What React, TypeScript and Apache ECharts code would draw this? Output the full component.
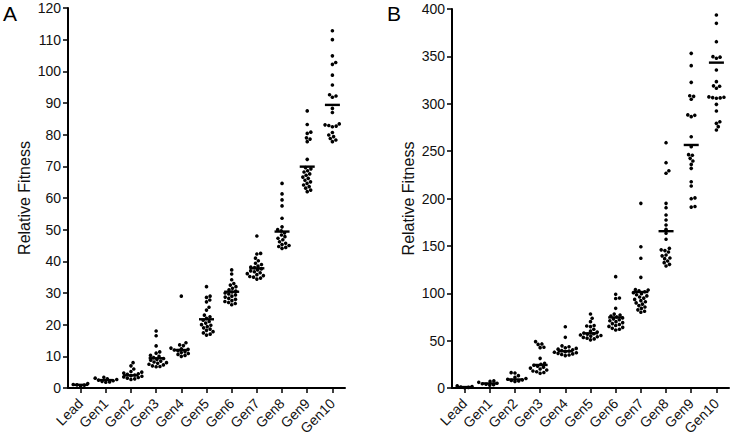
import { useEffect, useRef } from "react";
import * as echarts from "echarts";

const categories = ["Lead", "Gen1", "Gen2", "Gen3", "Gen4", "Gen5", "Gen6", "Gen7", "Gen8", "Gen9", "Gen10"];

// Panel A values (relative fitness)
const leadA = [1.4, 1.1, 1.0, 0.9, 0.6];
const gen1A = [3.4, 3.1, 2.9, 2.7, 2.5, 2.3, 2.1, 1.9, 1.8];
const gen2A = [8.0, 7.0, 6.0, 5.2, 5.0, 4.7, 4.5, 4.3, 4.1, 3.9, 3.7, 3.5, 3.3, 3.1, 2.9, 2.7];
const gen3A = [18.0, 16.5, 13.3, 11.4, 11.0, 10.3, 10.0, 9.6, 9.3, 9.0, 8.8, 8.5, 8.2, 8.0, 7.8, 7.5, 7.3, 7.0, 6.8, 6.7];
const gen4A = [29.0, 14.3, 13.6, 13.4, 12.6, 12.4, 12.2, 12.0, 11.8, 11.5, 11.2, 10.9, 10.6, 10.3, 10.0];
const gen5A = [32.0, 29.0, 28.6, 27.8, 27.2, 25.5, 24.6, 23.0, 22.5, 22.0, 21.4, 21.0, 20.5, 20.0, 19.8, 19.4, 19.0, 18.6, 18.2, 17.8, 17.4, 17.0, 16.7];
const gen6A = [37.3, 36.0, 34.2, 33.0, 32.5, 32.0, 31.5, 31.0, 30.6, 30.3, 30.0, 29.7, 29.4, 29.0, 28.7, 28.3, 28.0, 27.6, 27.3, 27.0, 26.7, 26.3];
const gen7A = [48.0, 42.5, 42.3, 41.0, 40.2, 39.4, 39.0, 38.5, 38.2, 38.0, 37.6, 37.3, 37.0, 36.7, 36.4, 36.1, 35.8, 35.5, 35.2, 35.0, 34.7, 34.4];
const gen8A = [64.6, 61.3, 59.4, 57.5, 53.6, 50.9, 50.0, 49.6, 49.0, 48.3, 47.8, 47.3, 46.8, 46.2, 45.7, 45.3, 45.0, 44.7, 44.4, 44.1];
const gen9A = [87.5, 83.2, 80.8, 80.4, 79.0, 78.6, 77.8, 72.2, 69.6, 69.2, 68.6, 68.2, 67.6, 67.2, 66.6, 66.2, 65.6, 65.1, 64.6, 64.1, 63.6, 63.1, 62.5, 62.0];
const gen10A = [112.8, 110.0, 104.9, 102.8, 102.2, 98.8, 95.7, 92.6, 92.2, 91.8, 88.3, 87.0, 83.4, 83.1, 82.9, 82.7, 82.5, 80.7, 79.9, 79.4, 78.8, 78.3, 77.8];
const meansA = [1.0, 2.5, 4.0, 9.4, 12.0, 21.7, 30.4, 37.8, 49.4, 69.9, 89.4];

// Panel B values (relative fitness)
const leadB = [2.2, 1.6, 1.0, 0.6, 0.3];
const gen1B = [7.5, 7.0, 6.0, 5.0, 4.5, 4.0, 3.5, 3.0];
const gen2B = [16.2, 15.8, 13.0, 11.3, 10.0, 9.2, 8.6, 8.0, 7.4, 6.8];
const gen3B = [49.0, 46.5, 46.0, 43.0, 42.6, 31.3, 26.0, 25.0, 24.0, 23.0, 22.0, 21.0, 20.0, 19.0, 18.0, 17.2, 16.4, 15.5];
const gen4B = [64.7, 53.5, 44.5, 43.5, 42.5, 41.8, 41.0, 40.3, 39.6, 39.0, 38.4, 37.8, 37.2, 36.6, 36.0, 35.4, 34.8, 34.2];
const gen5B = [78.1, 73.6, 70.0, 66.0, 65.4, 64.8, 62.0, 60.0, 59.0, 58.0, 57.3, 56.7, 56.0, 55.4, 54.8, 54.1, 53.4, 52.6, 51.8, 50.8];
const gen6B = [117.5, 98.9, 95.0, 94.4, 84.1, 78.0, 77.0, 76.0, 75.0, 74.0, 73.0, 72.0, 71.0, 70.0, 69.0, 68.0, 67.0, 66.0, 65.0, 64.0, 63.0, 62.0, 61.2];
const gen7B = [194.9, 149.1, 136.9, 116.8, 104.0, 103.4, 102.5, 101.6, 100.6, 99.5, 98.4, 97.2, 96.0, 94.8, 93.5, 92.2, 91.0, 89.8, 88.5, 87.0, 85.5, 84.0, 82.5, 81.0, 80.0];
const gen8B = [258.9, 237.8, 229.3, 226.6, 194.9, 190.3, 182.6, 177.3, 172.0, 167.5, 163.3, 157.0, 147.4, 145.8, 145.0, 143.5, 140.4, 139.5, 137.2, 136.5, 134.0, 132.3, 130.5, 128.8];
const gen9B = [353.2, 340.2, 322.6, 308.4, 307.8, 304.7, 288.2, 287.8, 286.4, 265.2, 254.7, 246.3, 245.7, 242.4, 239.6, 236.0, 231.8, 217.7, 213.2, 200.6, 199.8, 191.6, 190.9];
const gen10B = [393.7, 384.9, 365.5, 349.7, 349.2, 348.0, 335.6, 323.3, 318.9, 318.5, 316.3, 307.2, 306.9, 306.5, 306.2, 305.8, 299.4, 292.3, 281.0, 279.3, 275.8, 272.3];
const meansB = [1.0, 4.8, 9.0, 24.3, 38.8, 57.7, 74.5, 101.3, 165.5, 256.5, 343.4];

const yTicksA = { min: 0, max: 120, interval: 10 };
const yTicksB = { min: 0, max: 400, interval: 50 };

const groupsA = [leadA, gen1A, gen2A, gen3A, gen4A, gen5A, gen6A, gen7A, gen8A, gen9A, gen10A];
const groupsB = [leadB, gen1B, gen2B, gen3B, gen4B, gen5B, gen6B, gen7B, gen8B, gen9B, gen10B];

const DOT_R = 1.8;
const DOT_GAP = 3.8;

// beeswarm: given pixel y positions, compute horizontal offsets so dots don't overlap
function swarm(ys: number[], d: number): number[] {
  const order = ys.map((_, i) => i).sort((a, b) => ys[b] - ys[a]);
  const xs = new Array(ys.length).fill(0);
  const placed: number[] = [];
  for (const i of order) {
    const y = ys[i];
    const cands = [0];
    for (const j of placed) {
      const dy = Math.abs(ys[j] - y);
      if (dy < d) {
        const dx = Math.sqrt(d * d - dy * dy);
        cands.push(xs[j] + dx + 0.01, xs[j] - dx - 0.01);
      }
    }
    cands.sort((a, b) => Math.abs(a) - Math.abs(b));
    let best = 0;
    for (const c of cands) {
      let ok = true;
      for (const j of placed) {
        const ddx = xs[j] - c;
        const ddy = ys[j] - y;
        if (ddx * ddx + ddy * ddy < d * d - 0.001) {
          ok = false;
          break;
        }
      }
      if (ok) {
        best = c;
        break;
      }
    }
    xs[i] = best;
    placed.push(i);
  }
  return xs;
}

function dotRenderer(groups: number[][]) {
  const cache: Record<string, number[]> = {};
  return (_params: any, api: any) => {
    const cat = api.value(0);
    const v = api.value(1);
    const k = api.value(2);
    const group = groups[cat];
    const ys = group.map((g) => api.coord([cat, g])[1]);
    const key = cat + "|" + ys[0].toFixed(2) + "|" + ys[ys.length - 1].toFixed(2);
    if (!cache[key]) cache[key] = swarm(ys, DOT_GAP);
    const xs = cache[key];
    const p = api.coord([cat, v]);
    return {
      type: "circle",
      shape: { cx: p[0] + xs[k], cy: p[1], r: DOT_R },
      style: { fill: "#000" },
    };
  };
}

function meanRenderer(_params: any, api: any) {
  const p = api.coord([api.value(0), api.value(1)]);
  return {
    type: "line",
    shape: { x1: p[0] - 7.5, y1: p[1], x2: p[0] + 7.5, y2: p[1] },
    style: { stroke: "#000", lineWidth: 2.4 },
  };
}

const FONT = "Liberation Sans, Arial, sans-serif";

function xAxisFor(gridIndex: number) {
  return {
    type: "category",
    gridIndex,
    data: categories,
    boundaryGap: true,
    axisLine: { show: true, lineStyle: { color: "#000", width: 2 } },
    axisTick: { show: true, alignWithLabel: true, length: 5, lineStyle: { color: "#000", width: 1.5 } },
    axisLabel: { rotate: 45, interval: 0, fontSize: 14, color: "#111", margin: 13, fontFamily: FONT },
    splitLine: { show: false },
  };
}

function yAxisFor(gridIndex: number, t: { min: number; max: number; interval: number }) {
  return {
    type: "value",
    gridIndex,
    min: t.min,
    max: t.max,
    interval: t.interval,
    axisLine: { show: true, lineStyle: { color: "#000", width: 2 } },
    axisTick: { show: true, length: 5, lineStyle: { color: "#000", width: 1.5 } },
    axisLabel: { fontSize: 14, color: "#111", margin: 7, fontFamily: FONT },
    splitLine: { show: false },
    name: "Relative Fitness",
    nameLocation: "middle",
    nameGap: 36,
    nameTextStyle: { fontSize: 16, color: "#111", fontFamily: FONT },
  };
}

function flatten(groups: number[][]) {
  const out: number[][] = [];
  groups.forEach((g, ci) => g.forEach((v, k) => out.push([ci, v, k])));
  return out;
}

export default function App() {
  const ref = useRef<HTMLDivElement>(null);
  useEffect(() => {
    if (!ref.current) return;
    const chart = echarts.init(ref.current, null, { renderer: "svg" });
    chart.setOption({
      animation: false,
      backgroundColor: "#fff",
      grid: [
        { left: 68, top: 8, width: 277, height: 380 },
        { left: 452, top: 9, width: 277, height: 379 },
      ],
      xAxis: [xAxisFor(0), xAxisFor(1)],
      yAxis: [yAxisFor(0, yTicksA), yAxisFor(1, yTicksB)],
      graphic: [
        { type: "text", left: 3, top: 3, style: { text: "A", fontSize: 21, fill: "#000", font: "21px " + FONT } },
        { type: "text", left: 387, top: 3, style: { text: "B", fontSize: 21, fill: "#000", font: "21px " + FONT } },
      ],
      series: [
        {
          type: "custom",
          xAxisIndex: 0,
          yAxisIndex: 0,
          renderItem: dotRenderer(groupsA),
          data: flatten(groupsA),
        },
        {
          type: "custom",
          xAxisIndex: 0,
          yAxisIndex: 0,
          renderItem: meanRenderer,
          data: meansA.map((m, i) => [i, m]),
        },
        {
          type: "custom",
          xAxisIndex: 1,
          yAxisIndex: 1,
          renderItem: dotRenderer(groupsB),
          data: flatten(groupsB),
        },
        {
          type: "custom",
          xAxisIndex: 1,
          yAxisIndex: 1,
          renderItem: meanRenderer,
          data: meansB.map((m, i) => [i, m]),
        },
      ],
    });
    return () => chart.dispose();
  }, []);
  return <div ref={ref} style={{ position: "absolute", left: 0, top: 0, width: 733, height: 440 }} />;
}
